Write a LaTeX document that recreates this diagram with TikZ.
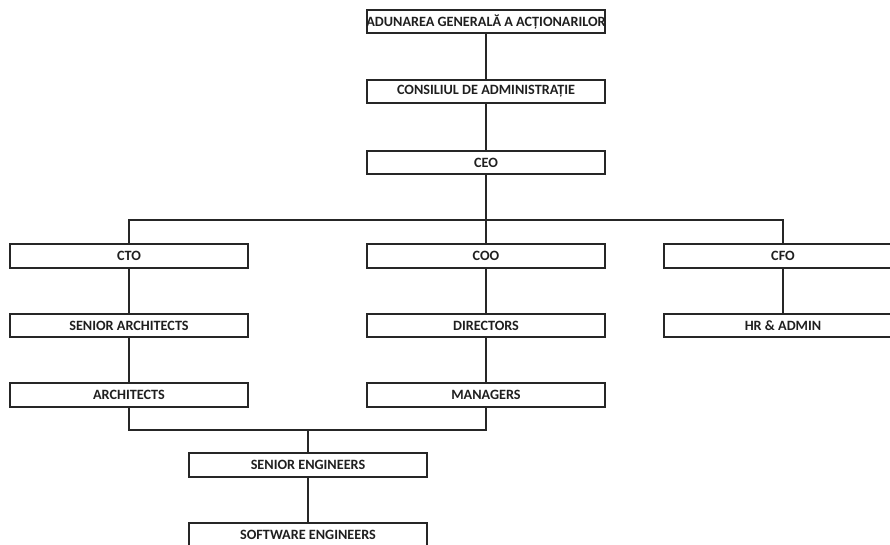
\documentclass[tikz,border=0pt]{standalone}
\usepackage{fontspec}
\setmainfont{Carlito}
\begin{document}
\begin{tikzpicture}[x=1pt,y=-1pt,
  lbl/.style={font=\bfseries\fontsize{14.2}{16}\selectfont,text=black!88},
  box/.style={lbl,draw=black!85,line width=1.6pt,minimum width=238pt,minimum height=23.5pt,inner sep=0pt},
  link/.style={draw=black!85,line width=1.3pt}]
\useasboundingbox (0,0) rectangle (890,545);
\node[box] (aga) at (486,21.5) {};
\begin{scope}
  \clip (aga.south west) rectangle (aga.north east);
  \node[lbl,inner sep=0pt] (agatext) at (aga.center) {ADUNAREA GENERALĂ A ACȚIONARILOR};
\end{scope}
\node[box] (ca) at (486,91.5) {CONSILIUL DE ADMINISTRAȚIE};
\node[box] (ceo) at (486,162.5) {CEO};
\node[box] (cto) at (129,256) {CTO};
\node[box] (coo) at (486,256) {COO};
\node[box] (cfo) at (783,256) {CFO};
\node[box] (sa) at (129,325.5) {SENIOR ARCHITECTS};
\node[box] (dir) at (486,325.5) {DIRECTORS};
\node[box] (hr) at (783,325.5) {HR \& ADMIN};
\node[box] (arch) at (129,395) {ARCHITECTS};
\node[box] (man) at (486,395) {MANAGERS};
\node[box] (se) at (308,465) {SENIOR ENGINEERS};
\node[box] (sw) at (308,535) {SOFTWARE ENGINEERS};
\coordinate (bus) at (486,220);
\coordinate (merge) at (308,430);
\draw[link] (aga) -- (ca);
\draw[link] (ca) -- (ceo);
\draw[link] (ceo) -- (coo);
\draw[link] (cto.north) |- (bus) -| (cfo.north);
\draw[link] (cto) -- (sa);
\draw[link] (sa) -- (arch);
\draw[link] (coo) -- (dir);
\draw[link] (dir) -- (man);
\draw[link] (cfo) -- (hr);
\draw[link] (arch.south) |- (merge) -| (man.south);
\draw[link] (merge) -- (se);
\draw[link] (se) -- (sw);
\end{tikzpicture}
\end{document}
